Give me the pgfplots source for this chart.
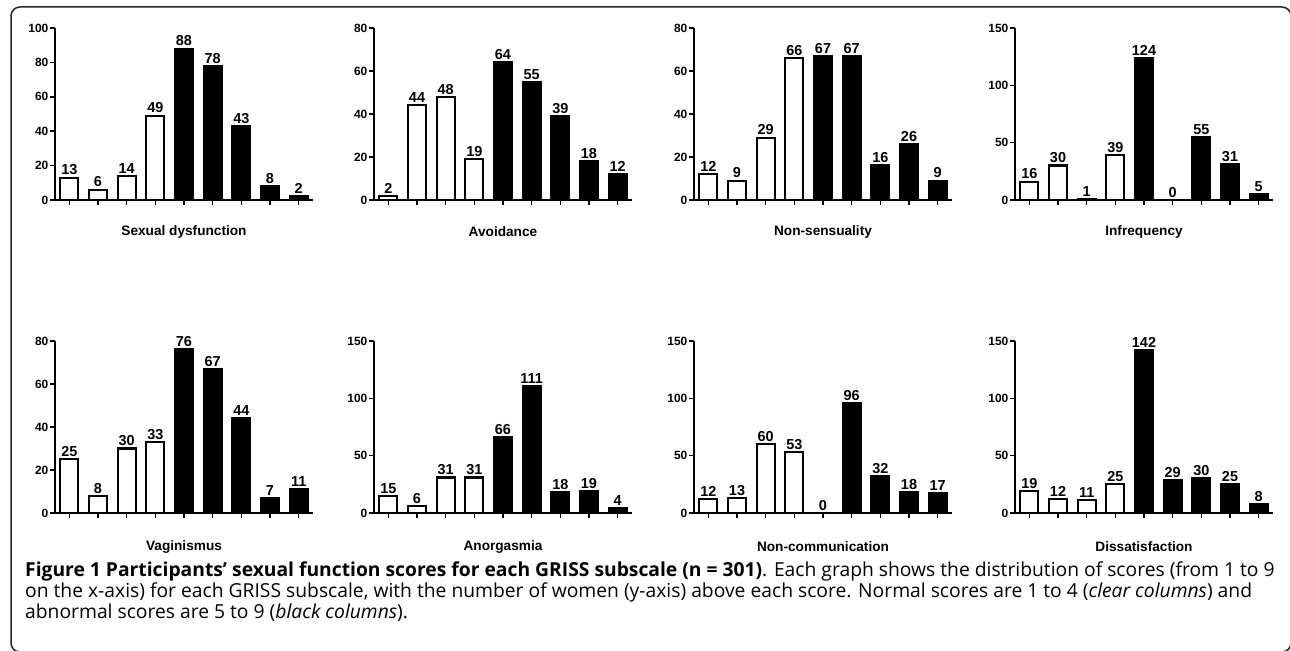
\documentclass[border=0pt]{standalone}
\usepackage{pgfplots}
\pgfplotsset{compat=1.18}
\usepackage{fontspec}
\setmainfont{Open Sans}
\newfontfamily\chartfont{Liberation Sans}

\pgfplotsset{
  griss/.style={
    scale only axis, width=258bp, height=172bp,
    anchor=south west,
    xmin=0.5, xmax=9.5, ymin=0,
    axis x line=bottom, axis y line=left,
    axis line style={-, line width=1.7bp},
    xtick={1,...,9}, xticklabels={},
    major tick length=5bp,
    tick align=outside,
    every tick/.style={black, line width=1.5bp},
    /pgf/number format/assume math mode=true,
    yticklabel style={font=\chartfont\bfseries\fontsize{12}{12}\selectfont, inner sep=1.5bp},
    xlabel style={font=\chartfont\bfseries\fontsize{13.7}{13.7}\selectfont,
      at={(axis description cs:0.5,0)}, anchor=center},
    ybar, bar width=18bp, bar shift=0pt,
    every axis plot/.append style={draw=black, line width=2.2bp},
    nodes near coords,
    every node near coord/.append style={font=\chartfont\bfseries\fontsize{14.5}{14.5}\selectfont,
      black, inner sep=1.5bp},
    clip=false,
  },
  clear/.style={fill=white},
  dark/.style={fill=black},
}

% #1 x, #2 y, #3 ymax, #4 ytick list, #5 label, #6 label shift, #7 scores 1-4, #8 scores 5-9
\newcommand\panel[8]{%
  \begin{axis}[griss, at={(#1bp,#2bp)}, ymax=#3, ytick={#4},
      xlabel={#5}, xlabel style={yshift=-#6bp}]
    \addplot[clear] coordinates {#7};
    \addplot[dark] coordinates {#8};
  \end{axis}}

\begin{document}
\begin{tikzpicture}
\useasboundingbox (0,0) rectangle (1290bp,651bp);
\draw[line width=1.5bp, rounded corners=9bp, black!85] (11bp,-1bp) rectangle (1291bp,644bp);

% top row
\panel{55}{451}{100}{0,20,...,100}{Sexual dysfunction}{32}
  {(1,13) (2,6) (3,14) (4,49)}{(5,88) (6,78) (7,43) (8,8) (9,2)}
\panel{374}{451}{80}{0,20,...,80}{Avoidance}{32}
  {(1,2) (2,44) (3,48) (4,19)}{(5,64) (6,55) (7,39) (8,18) (9,12)}
\panel{694}{451}{80}{0,20,...,80}{Non-sensuality}{32}
  {(1,12) (2,9) (3,29) (4,66)}{(5,67) (6,67) (7,16) (8,26) (9,9)}
\panel{1015}{451}{150}{0,50,100,150}{Infrequency}{32}
  {(1,16) (2,30) (3,1) (4,39)}{(5,124) (6,0) (7,55) (8,31) (9,5)}

% bottom row
\panel{55}{138}{80}{0,20,...,80}{Vaginismus}{34}
  {(1,25) (2,8) (3,30) (4,33)}{(5,76) (6,67) (7,44) (8,7) (9,11)}
\panel{374}{138}{150}{0,50,100,150}{Anorgasmia}{34}
  {(1,15) (2,6) (3,31) (4,31)}{(5,66) (6,111) (7,18) (8,19) (9,4)}
\panel{694}{138}{150}{0,50,100,150}{Non-communication}{34}
  {(1,12) (2,13) (3,60) (4,53)}{(5,0) (6,96) (7,32) (8,18) (9,17)}
\panel{1015}{138}{150}{0,50,100,150}{Dissatisfaction}{34}
  {(1,19) (2,12) (3,11) (4,25)}{(5,142) (6,29) (7,30) (8,25) (9,8)}

% caption
\begin{scope}[every node/.style={anchor=base west, inner sep=0pt,
    font=\fontsize{19.35}{19.35}\selectfont}]
\node at (25bp,74bp) {\textbf{Figure 1 Participants’ sexual function scores for each GRISS subscale (n = 301)}. Each graph shows the distribution of scores (from 1 to 9};
\node at (25bp,53bp) {on the x-axis) for each GRISS subscale, with the number of women (y-axis) above each score. Normal scores are 1 to 4 (\textit{clear columns}) and};
\node at (25bp,33bp) {abnormal scores are 5 to 9 (\textit{black columns}).};
\end{scope}
\end{tikzpicture}
\end{document}
